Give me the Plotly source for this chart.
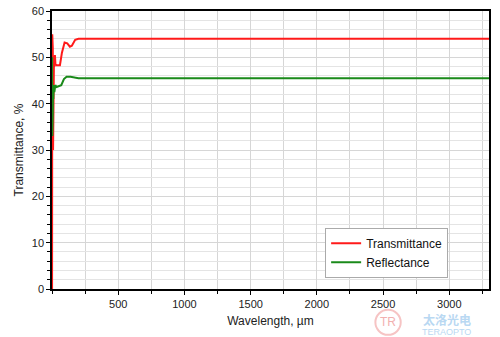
import plotly.graph_objects as go

wl_t = [0.5, 2, 3, 4, 5, 6, 8, 10, 12, 15, 18, 22, 26, 35, 60, 75, 95, 115, 135, 150, 175, 200, 3300]
trans = [0, 55, 20, 54, 25, 52, 30, 50, 45, 50, 48, 50.5, 48.5, 48.3, 48.3, 51, 53.2, 53, 52.3, 52.5, 53.8, 54, 54]

wl_r = [0.5, 2, 4, 6, 8, 10, 13, 18, 25, 35, 55, 70, 90, 110, 140, 170, 200, 3300]
refl = [50, 33, 46, 38, 44, 41, 44, 42.5, 44, 43.6, 43.8, 44, 45.3, 45.8, 45.8, 45.7, 45.5, 45.5]

fig = go.Figure()
fig.add_trace(go.Scatter(x=wl_t, y=trans, mode="lines", name="Transmittance",
                         line=dict(color="#ff1a1a", width=2)))
fig.add_trace(go.Scatter(x=wl_r, y=refl, mode="lines", name="Reflectance",
                         line=dict(color="#1a8a1a", width=2)))

font = "Liberation Sans, Arial, sans-serif"
tickfont = dict(family=font, size=11, color="#222222")
fig.update_layout(
    width=500, height=337,
    margin=dict(l=52, r=11, t=11, b=48),
    paper_bgcolor="white", plot_bgcolor="white",
    font=dict(family=font, size=11, color="#222222"),
    showlegend=True,
    legend=dict(x=0.625, y=0.13, xanchor="left", yanchor="middle",
                bgcolor="white", bordercolor="#aaaaaa", borderwidth=1,
                font=dict(size=12, family=font, color="#111111"),
                tracegroupgap=0, itemwidth=30),
    xaxis=dict(range=[0, 3300], showline=True, linecolor="black", automargin=False,
               linewidth=1.5, mirror=True, ticks="outside", ticklen=4, tickcolor="black",
               showgrid=True, gridcolor="#d6d6d6", gridwidth=1, zeroline=False,
               tickfont=tickfont,
               minor=dict(dtick=250, tick0=0, ticks="outside", ticklen=3, tickcolor="black",
                          showgrid=True, gridcolor="#d6d6d6"),
               title=dict(text="Wavelength, µm", font=dict(size=12, family=font, color="#222222"), standoff=8),
               tickvals=[500, 1000, 1500, 2000, 2500, 3000]),
    yaxis=dict(range=[0, 60], dtick=10, showline=True, linecolor="black", automargin=False,
               linewidth=1.5, mirror=True, ticks="outside", ticklen=4, tickcolor="black",
               showgrid=True, gridcolor="#d6d6d6", gridwidth=1, zeroline=False,
               tickfont=tickfont,
               minor=dict(dtick=2, ticks="outside", ticklen=3, tickcolor="black",
                          showgrid=True, gridcolor="#e4e4e4"),
               title=dict(text="Transmittance, %", font=dict(size=12, family=font, color="#222222"), standoff=6)),
)

# faint watermark
fig.add_shape(type="circle", xref="paper", yref="paper",
              x0=0.769 - 0.029, x1=0.769 + 0.029, y0=-0.12 - 0.045, y1=-0.12 + 0.045,
              line=dict(color="#f6c4c4", width=2), layer="above")
fig.add_annotation(xref="paper", yref="paper", x=0.769, y=-0.12, xanchor="center", yanchor="middle",
                   text="TR", showarrow=False, font=dict(size=12, color="#f2b0b0", family=font))
fig.add_annotation(xref="paper", yref="paper", x=0.903, y=-0.108, xanchor="center", yanchor="middle",
                   text="<b>太洛光电</b>", showarrow=False, borderpad=0,
                   font=dict(size=12, color="#b9d8f2", family="Noto Sans CJK SC"))
fig.add_annotation(xref="paper", yref="paper", x=0.903, y=-0.154, xanchor="center", yanchor="middle",
                   text="TERAOPTO", showarrow=False, borderpad=0,
                   font=dict(size=9, color="#b9d8f2", family=font))

fig.write_html("out.html")
